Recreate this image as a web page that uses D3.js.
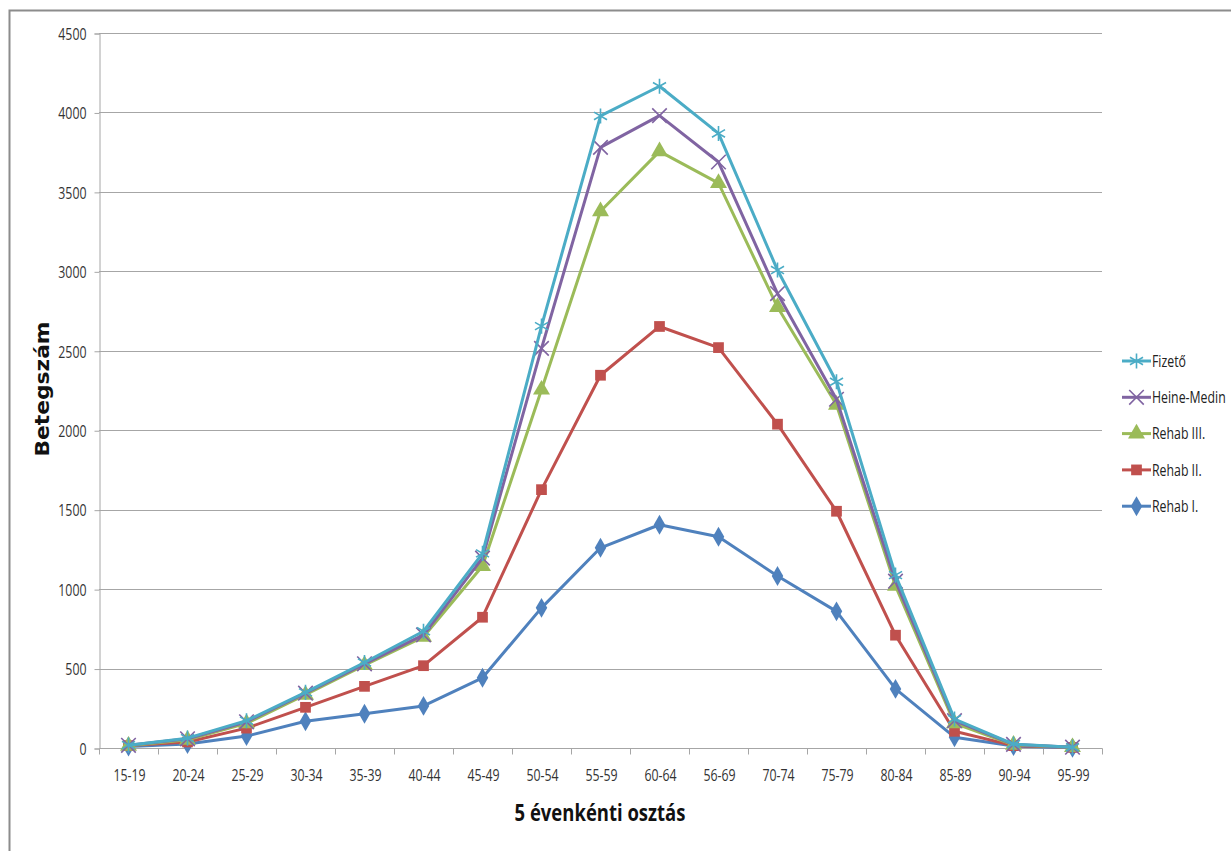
<!DOCTYPE html>
<html>
<head>
<meta charset="utf-8">
<script src="https://cdn.jsdelivr.net/npm/d3@7"></script>
<style>
  html, body { margin: 0; padding: 0; background: #fff; }
  svg { display: block; }
</style>
</head>
<body>
<svg id="chart" width="1231" height="851"></svg>
<script>
const categories = ["15-19","20-24","25-29","30-34","35-39","40-44","45-49","50-54","55-59","60-64","56-69","70-74","75-79","80-84","85-89","90-94","95-99"];
const rehabI   = [10, 25, 75, 168, 216, 265, 442, 882, 1260, 1405, 1330, 1082, 860, 372, 68, 12, 2];
const rehabII  = [15, 38, 125, 256, 388, 518, 823, 1626, 2346, 2653, 2520, 2038, 1490, 710, 105, 15, 4];
const rehabIII = [14, 52, 155, 335, 522, 700, 1145, 2255, 3378, 3755, 3555, 2775, 2160, 1020, 155, 20, 5];
const heineMedin = [17, 58, 165, 345, 530, 712, 1195, 2515, 3780, 3980, 3688, 2860, 2195, 1050, 172, 23, 5];
const fizeto   = [18, 62, 172, 350, 538, 735, 1225, 2655, 3978, 4165, 3868, 3008, 2305, 1088, 182, 25, 5];
const yTicks = [0, 500, 1000, 1500, 2000, 2500, 3000, 3500, 4000, 4500];

const seriesNames = ["Rehab I.", "Rehab II.", "Rehab III.", "Heine-Medin", "Fizető"];
const seriesValues = [rehabI, rehabII, rehabIII, heineMedin, fizeto];
const seriesColors = ["#4F81BD", "#C0504D", "#9BBB59", "#8064A2", "#4BACC6"];
const seriesSymbols = [d3.symbolDiamond, d3.symbolSquare, d3.symbolTriangle, d3.symbolTimes, d3.symbolAsterisk];
const symbolFilled = [true, true, true, false, false];
const symbolSizes = [115, 115, 125, 140, 160];

const series = seriesNames.map((name, i) => ({
  name, values: seriesValues[i], color: seriesColors[i],
  symbol: seriesSymbols[i], filled: symbolFilled[i], size: symbolSizes[i]
}));

const svg = d3.select("#chart");
const pLeft = 99, pRight = 1102, pTop = 33, pBottom = 748;
const textFont = "'Open Sans', 'Noto Sans', sans-serif";
const squeeze = 0.77;

function compress(sel, f) {
  sel.each(function () {
    const len = this.getComputedTextLength();
    d3.select(this).attr("textLength", len * f).attr("lengthAdjust", "spacingAndGlyphs");
  });
}

// outer border
svg.append("rect").attr("x", 9.5).attr("y", 10.5).attr("width", 1260).attr("height", 900)
  .attr("fill", "none").attr("stroke", "#8c8c8c").attr("stroke-width", 2);

const x = d3.scalePoint().domain(categories).range([pLeft, pRight]).padding(0.5);
const y = d3.scaleLinear().domain([0, 4500]).range([pBottom, pTop]);

// gridlines
svg.append("g").selectAll("line").data(yTicks.filter(d => d > 0)).join("line")
  .attr("x1", pLeft).attr("x2", pRight)
  .attr("y1", d => Math.round(y(d)) + 0.5).attr("y2", d => Math.round(y(d)) + 0.5)
  .attr("stroke", "#a6a6a6").attr("stroke-width", 1);

// y axis
const yAxis = d3.axisLeft(y).tickValues(yTicks).tickSize(5).tickPadding(8).tickFormat(d3.format("d"));
const gy = svg.append("g").attr("transform", `translate(${pLeft + 0.5},0.5)`).call(yAxis);
gy.select(".domain").attr("stroke", "#a6a6a6");
gy.selectAll(".tick line").attr("stroke", "#a6a6a6");
gy.selectAll(".tick text").attr("font-family", textFont).attr("font-size", 16).attr("fill", "#333")
  .attr("dy", "0.36em").call(compress, squeeze);

// x axis
const step = x.step();
const gx = svg.append("g").attr("transform", `translate(0.5,${Math.round(pBottom) + 0.5})`);
gx.call(d3.axisBottom(x).tickSize(0).tickPadding(21));
gx.select(".domain").attr("stroke", "#a6a6a6").attr("d", `M${pLeft},0H${pRight}`);
gx.selectAll(".tick text").attr("font-family", textFont).attr("font-size", 16).attr("fill", "#333")
  .call(compress, squeeze);
gx.append("g").selectAll("line").data(d3.range(categories.length + 1)).join("line")
  .attr("x1", i => Math.round(pLeft + i * step)).attr("x2", i => Math.round(pLeft + i * step))
  .attr("y1", 0).attr("y2", 6).attr("stroke", "#a6a6a6");

// lines and markers
const line = d3.line().x((d, i) => x(categories[i])).y(d => y(d));
series.forEach(s => {
  const g = svg.append("g");
  g.append("path").attr("d", line(s.values)).attr("fill", "none")
    .attr("stroke", s.color).attr("stroke-width", 3).attr("stroke-linejoin", "round");
  const sym = d3.symbol().type(s.symbol).size(s.size);
  g.selectAll("path.m").data(s.values).join("path").attr("class", "m")
    .attr("transform", (d, i) => `translate(${x(categories[i])},${y(d)})`)
    .attr("d", sym())
    .attr("fill", s.filled ? s.color : "none")
    .attr("stroke", s.color).attr("stroke-width", s.filled ? 0 : 1.6);
});

// legend
const legendOrder = [...series].reverse();
const lg = svg.append("g");
legendOrder.forEach((s, i) => {
  const yy = 361 + i * 36.3;
  lg.append("line").attr("x1", 1122).attr("x2", 1151).attr("y1", yy).attr("y2", yy)
    .attr("stroke", s.color).attr("stroke-width", 3);
  lg.append("path").attr("transform", `translate(1136.5,${yy})`)
    .attr("d", d3.symbol().type(s.symbol).size(s.size)())
    .attr("fill", s.filled ? s.color : "none").attr("stroke", s.color)
    .attr("stroke-width", s.filled ? 0 : 1.6);
  lg.append("g").attr("transform", `translate(1152,${yy}) scale(${squeeze},1)`)
    .append("text").attr("x", 0).attr("y", 0).attr("dy", "0.36em")
    .attr("font-family", textFont).attr("font-size", 16).attr("fill", "#222").text(s.name);
});

// axis titles
svg.append("text").attr("x", 600).attr("y", 821).attr("text-anchor", "middle")
  .attr("font-family", textFont).attr("font-weight", "bold")
  .attr("font-size", 24).attr("fill", "#111").text("5 évenkénti osztás")
  .call(compress, squeeze);
svg.append("text").attr("transform", "translate(49,389) rotate(-90)").attr("text-anchor", "middle")
  .attr("font-family", "'DejaVu Sans', Verdana, sans-serif").attr("font-weight", "bold")
  .attr("font-size", 19).attr("textLength", 135).attr("lengthAdjust", "spacingAndGlyphs")
  .attr("fill", "#111").text("Betegszám");
</script>
</body>
</html>
